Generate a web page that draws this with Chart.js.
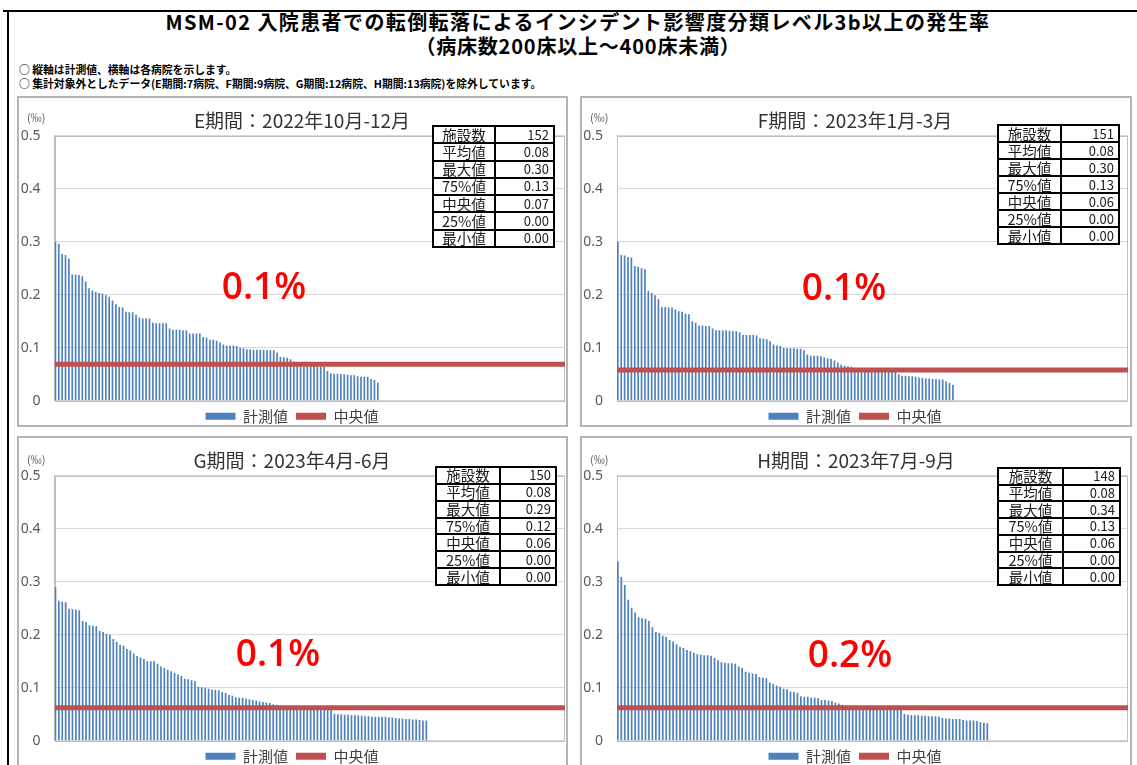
<!DOCTYPE html>
<html><head><meta charset="utf-8">
<script src="https://cdn.jsdelivr.net/npm/chart.js@4.4.0/dist/chart.umd.min.js"></script>
<style>
body{margin:0;background:#fff;width:1137px;height:765px;overflow:hidden;position:relative;font-family:"Noto Sans CJK JP",sans-serif;}
.frameTop{position:absolute;left:3px;top:10px;width:1134px;height:2px;background:#000;}
.frameLeft{position:absolute;left:7px;top:10px;width:2px;height:755px;background:#000;}
.ptitle{position:absolute;left:0;width:1156px;text-align:center;font-weight:700;font-size:20px;letter-spacing:1.4px;line-height:24px;color:#000;white-space:nowrap;}
.note{position:absolute;left:19px;font-weight:700;font-size:10.8px;line-height:12px;color:#000;white-space:nowrap;}
.panel{position:absolute;box-sizing:border-box;border:2px solid #b4b4b4;background:#fff;}
.panel canvas{position:absolute;left:0;top:0;}
.ctitle{position:absolute;font-size:19px;line-height:22px;color:#333;white-space:nowrap;transform:translate(-50%,-50%);}
.unit{position:absolute;font-size:11px;line-height:12px;color:#595959;white-space:nowrap;transform:translateY(-50%);}
.rate{position:absolute;font-family:"Open Sans",sans-serif;font-weight:600;font-size:37px;line-height:37px;color:#ff0000;white-space:nowrap;transform:translate(-50%,-50%);}
table.stats{position:absolute;border-collapse:collapse;background:#fff;}
table.stats td{border:2px solid #000;padding:0;font-size:14.5px;line-height:14px;color:#1a1a1a;white-space:nowrap;}
table.stats td.l{text-align:center;}
table.stats td.v{text-align:right;padding-right:4px;font-size:13px;}
</style>
</head><body>
<div class="frameTop"></div><div class="frameLeft"></div>
<div id="root"></div>
<script>
// ---- data ----
const pageTitle1 = 'MSM-02 入院患者での転倒転落によるインシデント影響度分類レベル3b以上の発生率';
const pageTitle2 = '（病床数200床以上～400床未満）';
const notes = ['○ 縦軸は計測値、横軸は各病院を示します。',
  '○ 集計対象外としたデータ(E期間:7病院、F期間:9病院、G期間:12病院、H期間:13病院)を除外しています。'];
const panelTitles = ['E期間：2022年10月-12月','F期間：2023年1月-3月','G期間：2023年4月-6月','H期間：2023年7月-9月'];
const seriesLabel = '計測値';
const medianLabel = '中央値';
const unitLabel = '(‰)';
const yTicks = [0, 0.1, 0.2, 0.3, 0.4, 0.5];

const valuesE = [
0.300,0.296,0.277,0.275,0.268,0.238,0.238,0.237,0.235,0.225,
0.212,0.208,0.205,0.203,0.202,0.199,0.196,0.189,0.182,0.177,
0.176,0.168,0.167,0.167,0.162,0.157,0.155,0.155,0.155,0.147,
0.146,0.146,0.146,0.146,0.136,0.134,0.134,0.134,0.133,0.133,
0.127,0.127,0.127,0.127,0.120,0.119,0.115,0.115,0.113,0.110,
0.106,0.104,0.104,0.104,0.103,0.100,0.099,0.097,0.097,0.096,
0.096,0.096,0.096,0.095,0.095,0.095,0.091,0.083,0.082,0.081,
0.078,0.074,0.070,0.069,0.068,0.067,0.067,0.066,0.066,0.065,
0.064,0.056,0.052,0.051,0.051,0.050,0.050,0.049,0.048,0.048,
0.046,0.045,0.045,0.045,0.041,0.039,0.034,
0,0,0,0,0,0,0,0,0,0,0,0,0,0,0,0,0,0,0,0,
0,0,0,0,0,0,0,0,0,0,0,0,0,0,0,0,0,0,0,0,
0,0,0,0,0,0,0,0,0,0,0,0,0,0,0];
const valuesF = [
0.300,0.275,0.274,0.271,0.270,0.254,0.253,0.250,0.248,0.207,
0.203,0.199,0.192,0.177,0.177,0.176,0.176,0.172,0.169,0.168,
0.164,0.163,0.150,0.147,0.142,0.142,0.141,0.141,0.136,0.133,
0.133,0.133,0.133,0.132,0.131,0.131,0.129,0.124,0.124,0.124,
0.124,0.123,0.118,0.117,0.116,0.112,0.106,0.104,0.103,0.100,
0.099,0.099,0.099,0.098,0.098,0.095,0.087,0.085,0.085,0.085,
0.084,0.082,0.080,0.079,0.076,0.072,0.068,0.066,0.065,0.064,
0.062,0.061,0.060,0.058,0.058,0.057,0.057,0.057,0.056,0.056,
0.056,0.056,0.055,0.050,0.047,0.047,0.046,0.046,0.045,0.044,
0.043,0.042,0.042,0.041,0.041,0.040,0.040,0.036,0.034,0.030,
0,0,0,0,0,0,0,0,0,0,0,0,0,0,0,0,0,0,0,0,
0,0,0,0,0,0,0,0,0,0,0,0,0,0,0,0,0,0,0,0,
0,0,0,0,0,0,0,0,0,0,0];
const valuesG = [
0.290,0.264,0.262,0.261,0.249,0.248,0.247,0.246,0.226,0.224,
0.218,0.217,0.216,0.207,0.205,0.202,0.200,0.192,0.186,0.181,
0.179,0.173,0.170,0.164,0.160,0.157,0.154,0.150,0.150,0.150,
0.145,0.140,0.137,0.134,0.131,0.128,0.125,0.122,0.117,0.116,
0.114,0.112,0.102,0.101,0.100,0.098,0.096,0.096,0.095,0.092,
0.090,0.086,0.085,0.082,0.081,0.081,0.079,0.078,0.077,0.076,
0.074,0.073,0.072,0.071,0.069,0.068,0.066,0.065,0.065,0.061,
0.061,0.060,0.060,0.060,0.060,0.060,0.060,0.059,0.059,0.059,
0.059,0.058,0.051,0.050,0.050,0.049,0.049,0.048,0.048,0.048,
0.047,0.046,0.046,0.045,0.045,0.045,0.045,0.045,0.044,0.044,
0.043,0.042,0.042,0.041,0.041,0.040,0.040,0.039,0.038,0.038,
0,0,0,0,0,0,0,0,0,0,0,0,0,0,0,0,0,0,0,0,
0,0,0,0,0,0,0,0,0,0,0,0,0,0,0,0,0,0,0,0];
const valuesH = [
0.338,0.309,0.294,0.266,0.251,0.242,0.233,0.231,0.230,0.226,
0.214,0.205,0.203,0.198,0.196,0.190,0.187,0.182,0.177,0.175,
0.171,0.169,0.166,0.163,0.162,0.161,0.161,0.160,0.156,0.152,
0.148,0.147,0.146,0.146,0.145,0.140,0.137,0.130,0.128,0.127,
0.126,0.120,0.119,0.118,0.110,0.107,0.104,0.102,0.098,0.097,
0.093,0.092,0.090,0.084,0.083,0.083,0.081,0.081,0.080,0.077,
0.077,0.076,0.075,0.072,0.070,0.068,0.066,0.064,0.062,0.062,
0.061,0.061,0.061,0.061,0.061,0.060,0.060,0.060,0.060,0.060,
0.059,0.059,0.058,0.051,0.049,0.048,0.048,0.048,0.047,0.047,
0.046,0.046,0.046,0.045,0.043,0.042,0.042,0.041,0.041,0.041,
0.039,0.038,0.038,0.038,0.037,0.035,0.034,0.033,
0,0,0,0,0,0,0,0,0,0,0,0,0,0,0,0,0,0,0,0,
0,0,0,0,0,0,0,0,0,0,0,0,0,0,0,0,0,0,0,0];
const medians = [0.069, 0.058, 0.062, 0.062];

const statLabels = ['施設数','平均値','最大値','75%値','中央値','25%値','最小値'];
const statsE = ['152','0.08','0.30','0.13','0.07','0.00','0.00'];
const statsF = ['151','0.08','0.30','0.13','0.06','0.00','0.00'];
const statsG = ['150','0.08','0.29','0.12','0.06','0.00','0.00'];
const statsH = ['148','0.08','0.34','0.13','0.06','0.00','0.00'];
const rateLabels = ['0.1%','0.1%','0.1%','0.2%'];

// ---- layout (positions / sizes) ----
const panels = [
  {vals:valuesE, stats:statsE, box:[17,96,551,331], plotL:35.6, padR:1, title:[302,120], unit:[27,117], table:[432,125,123,123,60], rate:[264,284]},
  {vals:valuesF, stats:statsF, box:[580,96,552,331], plotL:35, padR:2, title:[855,120], unit:[590,117], table:[997,124,123,121,61], rate:[844,285]},
  {vals:valuesG, stats:statsG, box:[17,436,551,331], plotL:35.6, padR:1, title:[292,460], unit:[27,459], table:[435,466,122,120,62], rate:[278,651]},
  {vals:valuesH, stats:statsH, box:[580,436,552,331], plotL:35, padR:2, title:[856,460], unit:[590,459], table:[997,467,124,119,63], rate:[850,652]}
];

const root = document.getElementById('root');
function el(tag, cls, css, text){const e=document.createElement(tag); if(cls)e.className=cls; if(css)Object.assign(e.style,css); if(text!=null)e.textContent=text; root.appendChild(e); return e;}

el('div','ptitle',{top:'10px'},pageTitle1);
el('div','ptitle',{top:'34px',letterSpacing:'0.8px'},pageTitle2);
el('div','note',{top:'63px'},notes[0]);
el('div','note',{top:'77px'},notes[1]);

const frame = {
  id:'frame',
  beforeDatasetsDraw(chart){
    const a = chart.chartArea, c = chart.ctx;
    c.save(); c.strokeStyle='#bfbfbf'; c.lineWidth=1;
    c.strokeRect(Math.round(a.left)+0.5, Math.round(a.top)+0.5, Math.round(a.right-a.left)-1, Math.round(a.bottom-a.top));
    c.restore();
  }
};

panels.forEach((p, k) => {
  const [bx,by,bw,bh] = p.box;
  const div = el('div','panel',{left:bx+'px',top:by+'px',width:bw+'px',height:bh+'px'});
  const cv = document.createElement('canvas');
  const cw = bw-4, ch = bh-4;
  cv.width = cw; cv.height = ch; cv.style.width = cw+'px'; cv.style.height = ch+'px';
  div.appendChild(cv);

  new Chart(cv, {
    type:'bar',
    data:{
      labels: p.vals.map((_, i) => String(i+1)),
      datasets:[
        {type:'bar', label:seriesLabel, data:p.vals, backgroundColor:'#4f81bd', borderWidth:0, inflateAmount:0,
         barPercentage:1, categoryPercentage:1, order:1},
        {type:'line', label:medianLabel, data:[{x:0,y:medians[k]},{x:1,y:medians[k]}], xAxisID:'x2',
         borderColor:'#c0504d', backgroundColor:'#c0504d', borderWidth:5, pointRadius:0, order:0}
      ]
    },
    options:{
      responsive:false, animation:false, devicePixelRatio:1,
      layout:{padding:{top:37.7, right:p.padR, left:0, bottom:0.3}},
      scales:{
        x:{display:false},
        x2:{type:'linear', display:false, min:0, max:1, offset:false, grid:{offset:false}},
        y:{min:0, max:0.5,
           afterBuildTicks: s => { s.ticks = yTicks.map(v => ({value:v})); },
           afterFit: s => { s.width = p.plotL; },
           grid:{color:'#d9d9d9', drawTicks:false},
           border:{display:true, color:'#bfbfbf'},
           ticks:{padding:14, color:'#595959', font:{family:'Noto Sans', size:14}, callback: v => String(v)}}
      },
      plugins:{
        legend:{position:'bottom', maxHeight:24,
          labels:{boxWidth:30, boxHeight:7, padding:8, color:'#404040',
            font:{family:'Noto Sans CJK JP', size:15},
            sort:(a,b)=>a.datasetIndex-b.datasetIndex,
            generateLabels: chart => Chart.defaults.plugins.legend.labels.generateLabels(chart).map(it => Object.assign(it,{lineWidth:0}))}},
        tooltip:{enabled:false}
      }
    },
    plugins:[frame]
  });

  el('div','ctitle',{left:p.title[0]+'px',top:p.title[1]+'px'},panelTitles[k]);
  el('div','unit',{left:p.unit[0]+'px',top:p.unit[1]+'px'},unitLabel);
  el('div','rate',{left:p.rate[0]+'px',top:p.rate[1]+'px'},rateLabels[k]);

  const [tx,ty,tw,th,lw] = p.table;
  const t = el('table','stats',{left:tx+'px',top:ty+'px',width:tw+'px',height:th+'px'});
  statLabels.forEach((lab, r) => {
    const tr = document.createElement('tr');
    const a = document.createElement('td'); a.className='l'; a.style.width=lw+'px'; a.textContent=lab;
    const b = document.createElement('td'); b.className='v'; b.textContent=p.stats[r];
    tr.appendChild(a); tr.appendChild(b); t.appendChild(tr);
  });
});
</script>
</body></html>
